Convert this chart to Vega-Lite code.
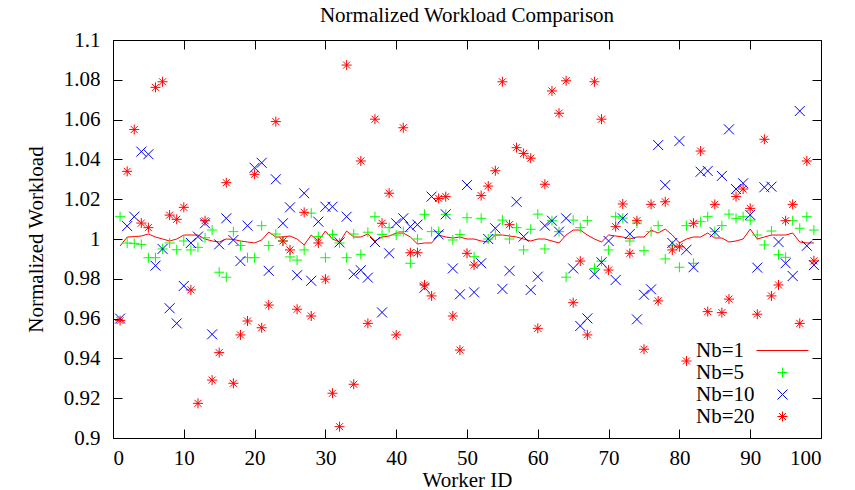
{
"$schema": "https://vega.github.io/schema/vega-lite/v6.json",
"width": 708, "height": 398,
"autosize": {"type": "none"},
"padding": {"left": 113, "top": 40, "right": 34, "bottom": 52},
"background": "white",
"title": {"text": "Normalized Workload Comparison", "font": "Liberation Serif", "fontSize": 21, "fontWeight": "normal", "color": "black", "offset": 3},
"config": {
  "font": "Liberation Serif",
  "view": {"stroke": "black", "strokeWidth": 1},
  "axis": {"labelFont": "Liberation Serif", "labelFontSize": 21, "titleFont": "Liberation Serif", "titleFontSize": 21, "titleFontWeight": "normal", "labelColor": "black", "titleColor": "black", "domain": false, "grid": false, "tickColor": "black", "tickSize": -9, "tickWidth": 1},
  "legend": {"labelFont": "Liberation Serif"}
},
"data": {"values": [
{"w":1,"s":"Nb=1","v":0.9965},{"w":2,"s":"Nb=1","v":1.001},{"w":3,"s":"Nb=1","v":1.0012},{"w":4,"s":"Nb=1","v":1.0015},{"w":5,"s":"Nb=1","v":1.0025},{"w":6,"s":"Nb=1","v":1.001},{"w":7,"s":"Nb=1","v":1.0},{"w":8,"s":"Nb=1","v":0.999},{"w":9,"s":"Nb=1","v":1.0},{"w":10,"s":"Nb=1","v":1.002},
{"w":11,"s":"Nb=1","v":1.002},{"w":12,"s":"Nb=1","v":1.002},{"w":13,"s":"Nb=1","v":1.0},{"w":14,"s":"Nb=1","v":0.999},{"w":15,"s":"Nb=1","v":0.9985},{"w":16,"s":"Nb=1","v":1.0},{"w":17,"s":"Nb=1","v":0.9998},{"w":18,"s":"Nb=1","v":0.999},{"w":19,"s":"Nb=1","v":0.9985},{"w":20,"s":"Nb=1","v":0.998},
{"w":21,"s":"Nb=1","v":0.9995},{"w":22,"s":"Nb=1","v":1.0035},{"w":23,"s":"Nb=1","v":1.001},{"w":24,"s":"Nb=1","v":1.001},{"w":25,"s":"Nb=1","v":1.0015},{"w":26,"s":"Nb=1","v":1.0},{"w":27,"s":"Nb=1","v":0.997},{"w":28,"s":"Nb=1","v":1.002},{"w":29,"s":"Nb=1","v":0.999},{"w":30,"s":"Nb=1","v":1.004},
{"w":31,"s":"Nb=1","v":1.0},{"w":32,"s":"Nb=1","v":0.9985},{"w":33,"s":"Nb=1","v":1.004},{"w":34,"s":"Nb=1","v":1.001},{"w":35,"s":"Nb=1","v":1.001},{"w":36,"s":"Nb=1","v":1.0025},{"w":37,"s":"Nb=1","v":0.999},{"w":38,"s":"Nb=1","v":1.001},{"w":39,"s":"Nb=1","v":1.0015},{"w":40,"s":"Nb=1","v":1.003},
{"w":41,"s":"Nb=1","v":1.003},{"w":42,"s":"Nb=1","v":1.001},{"w":43,"s":"Nb=1","v":0.9975},{"w":44,"s":"Nb=1","v":0.998},{"w":45,"s":"Nb=1","v":0.998},{"w":46,"s":"Nb=1","v":1.002},{"w":47,"s":"Nb=1","v":1.001},{"w":48,"s":"Nb=1","v":1.0005},{"w":49,"s":"Nb=1","v":1.001},{"w":50,"s":"Nb=1","v":1.0},
{"w":51,"s":"Nb=1","v":1.0},{"w":52,"s":"Nb=1","v":0.999},{"w":53,"s":"Nb=1","v":0.9985},{"w":54,"s":"Nb=1","v":1.002},{"w":55,"s":"Nb=1","v":1.002},{"w":56,"s":"Nb=1","v":1.0015},{"w":57,"s":"Nb=1","v":1.001},{"w":58,"s":"Nb=1","v":1.0},{"w":59,"s":"Nb=1","v":0.999},{"w":60,"s":"Nb=1","v":1.0},
{"w":61,"s":"Nb=1","v":1.0},{"w":62,"s":"Nb=1","v":0.999},{"w":63,"s":"Nb=1","v":0.998},{"w":64,"s":"Nb=1","v":1.002},{"w":65,"s":"Nb=1","v":1.0045},{"w":66,"s":"Nb=1","v":1.0045},{"w":67,"s":"Nb=1","v":1.002},{"w":68,"s":"Nb=1","v":1.0},{"w":69,"s":"Nb=1","v":0.9985},{"w":70,"s":"Nb=1","v":1.002},
{"w":71,"s":"Nb=1","v":1.0015},{"w":72,"s":"Nb=1","v":1.001},{"w":73,"s":"Nb=1","v":1.0},{"w":74,"s":"Nb=1","v":1.001},{"w":75,"s":"Nb=1","v":1.001},{"w":76,"s":"Nb=1","v":1.0045},{"w":77,"s":"Nb=1","v":1.003},{"w":78,"s":"Nb=1","v":1.005},{"w":79,"s":"Nb=1","v":1.002},{"w":80,"s":"Nb=1","v":0.998},
{"w":81,"s":"Nb=1","v":1.0},{"w":82,"s":"Nb=1","v":1.001},{"w":83,"s":"Nb=1","v":1.001},{"w":84,"s":"Nb=1","v":1.003},{"w":85,"s":"Nb=1","v":1.0005},{"w":86,"s":"Nb=1","v":1.0005},{"w":87,"s":"Nb=1","v":0.9985},{"w":88,"s":"Nb=1","v":0.999},{"w":89,"s":"Nb=1","v":1.0},{"w":90,"s":"Nb=1","v":1.005},
{"w":91,"s":"Nb=1","v":1.0},{"w":92,"s":"Nb=1","v":1.001},{"w":93,"s":"Nb=1","v":1.002},{"w":94,"s":"Nb=1","v":1.002},{"w":95,"s":"Nb=1","v":1.002},{"w":96,"s":"Nb=1","v":1.003},{"w":97,"s":"Nb=1","v":0.9985},{"w":98,"s":"Nb=1","v":0.998},{"w":99,"s":"Nb=1","v":0.998},
{"w":1,"s":"Nb=5","v":1.0112},{"w":2,"s":"Nb=5","v":0.998},{"w":3,"s":"Nb=5","v":0.9978},{"w":4,"s":"Nb=5","v":0.9973},{"w":5,"s":"Nb=5","v":0.9906},{"w":6,"s":"Nb=5","v":0.9906},{"w":7,"s":"Nb=5","v":0.995},{"w":8,"s":"Nb=5","v":0.998},{"w":9,"s":"Nb=5","v":0.9946},{"w":10,"s":"Nb=5","v":0.999},
{"w":11,"s":"Nb=5","v":0.9945},{"w":12,"s":"Nb=5","v":0.9958},{"w":13,"s":"Nb=5","v":1.0006},{"w":14,"s":"Nb=5","v":1.0045},{"w":15,"s":"Nb=5","v":0.9833},{"w":16,"s":"Nb=5","v":0.9808},{"w":17,"s":"Nb=5","v":1.0037},{"w":18,"s":"Nb=5","v":0.9967},{"w":19,"s":"Nb=5","v":0.9906},{"w":20,"s":"Nb=5","v":0.9906},
{"w":21,"s":"Nb=5","v":1.0067},{"w":22,"s":"Nb=5","v":0.9967},{"w":23,"s":"Nb=5","v":1.0025},{"w":24,"s":"Nb=5","v":0.999},{"w":25,"s":"Nb=5","v":0.991},{"w":26,"s":"Nb=5","v":0.9894},{"w":27,"s":"Nb=5","v":0.9945},{"w":28,"s":"Nb=5","v":1.013},{"w":29,"s":"Nb=5","v":1.0012},{"w":30,"s":"Nb=5","v":0.9906},
{"w":31,"s":"Nb=5","v":1.0023},{"w":32,"s":"Nb=5","v":0.998},{"w":33,"s":"Nb=5","v":0.9906},{"w":34,"s":"Nb=5","v":1.0025},{"w":35,"s":"Nb=5","v":0.9923},{"w":36,"s":"Nb=5","v":1.0034},{"w":37,"s":"Nb=5","v":1.0112},{"w":38,"s":"Nb=5","v":1.0023},{"w":39,"s":"Nb=5","v":1.0057},{"w":40,"s":"Nb=5","v":1.002},
{"w":41,"s":"Nb=5","v":1.0037},{"w":42,"s":"Nb=5","v":0.9878},{"w":43,"s":"Nb=5","v":1.0},{"w":44,"s":"Nb=5","v":1.0124},{"w":45,"s":"Nb=5","v":1.0037},{"w":46,"s":"Nb=5","v":1.0037},{"w":47,"s":"Nb=5","v":1.0124},{"w":48,"s":"Nb=5","v":0.9995},{"w":49,"s":"Nb=5","v":1.0023},{"w":50,"s":"Nb=5","v":1.0107},
{"w":51,"s":"Nb=5","v":0.9911},{"w":52,"s":"Nb=5","v":1.0104},{"w":53,"s":"Nb=5","v":1.0},{"w":54,"s":"Nb=5","v":1.002},{"w":55,"s":"Nb=5","v":1.0095},{"w":56,"s":"Nb=5","v":1.0},{"w":57,"s":"Nb=5","v":1.0057},{"w":58,"s":"Nb=5","v":0.9945},{"w":59,"s":"Nb=5","v":1.0049},{"w":60,"s":"Nb=5","v":1.0125},
{"w":61,"s":"Nb=5","v":0.995},{"w":62,"s":"Nb=5","v":1.0092},{"w":63,"s":"Nb=5","v":1.0037},{"w":64,"s":"Nb=5","v":0.9808},{"w":65,"s":"Nb=5","v":1.0095},{"w":66,"s":"Nb=5","v":1.0057},{"w":67,"s":"Nb=5","v":1.0092},{"w":68,"s":"Nb=5","v":0.9852},{"w":69,"s":"Nb=5","v":0.9889},{"w":70,"s":"Nb=5","v":0.9945},
{"w":71,"s":"Nb=5","v":1.0112},{"w":72,"s":"Nb=5","v":1.0105},{"w":73,"s":"Nb=5","v":0.999},{"w":74,"s":"Nb=5","v":1.008},{"w":75,"s":"Nb=5","v":0.9941},{"w":76,"s":"Nb=5","v":1.0037},{"w":77,"s":"Nb=5","v":1.0067},{"w":78,"s":"Nb=5","v":0.99},{"w":79,"s":"Nb=5","v":0.9966},{"w":80,"s":"Nb=5","v":0.9858},
{"w":81,"s":"Nb=5","v":1.0067},{"w":82,"s":"Nb=5","v":0.9878},{"w":83,"s":"Nb=5","v":1.0087},{"w":84,"s":"Nb=5","v":1.0112},{"w":85,"s":"Nb=5","v":1.0037},{"w":86,"s":"Nb=5","v":1.0067},{"w":87,"s":"Nb=5","v":1.0125},{"w":88,"s":"Nb=5","v":1.0104},{"w":89,"s":"Nb=5","v":1.0112},{"w":90,"s":"Nb=5","v":1.0095},
{"w":91,"s":"Nb=5","v":1.002},{"w":92,"s":"Nb=5","v":0.997},{"w":93,"s":"Nb=5","v":1.004},{"w":94,"s":"Nb=5","v":0.9921},{"w":95,"s":"Nb=5","v":0.9908},{"w":96,"s":"Nb=5","v":1.0092},{"w":97,"s":"Nb=5","v":1.0054},{"w":98,"s":"Nb=5","v":1.0112},{"w":99,"s":"Nb=5","v":1.0045},
{"w":1,"s":"Nb=10","v":0.96},{"w":2,"s":"Nb=10","v":1.0065},{"w":3,"s":"Nb=10","v":1.0112},{"w":4,"s":"Nb=10","v":1.0439},{"w":5,"s":"Nb=10","v":1.0426},{"w":6,"s":"Nb=10","v":0.9866},{"w":7,"s":"Nb=10","v":0.995},{"w":8,"s":"Nb=10","v":0.9652},{"w":9,"s":"Nb=10","v":0.9576},{"w":10,"s":"Nb=10","v":0.9764},
{"w":11,"s":"Nb=10","v":0.998},{"w":12,"s":"Nb=10","v":1.0012},{"w":13,"s":"Nb=10","v":1.0079},{"w":14,"s":"Nb=10","v":0.9521},{"w":15,"s":"Nb=10","v":0.9973},{"w":16,"s":"Nb=10","v":1.0104},{"w":17,"s":"Nb=10","v":0.9995},{"w":18,"s":"Nb=10","v":0.9889},{"w":19,"s":"Nb=10","v":1.0067},{"w":20,"s":"Nb=10","v":1.0358},
{"w":21,"s":"Nb=10","v":1.0383},{"w":22,"s":"Nb=10","v":0.984},{"w":23,"s":"Nb=10","v":1.03},{"w":24,"s":"Nb=10","v":1.0079},{"w":25,"s":"Nb=10","v":1.0159},{"w":26,"s":"Nb=10","v":0.9818},{"w":27,"s":"Nb=10","v":1.023},{"w":28,"s":"Nb=10","v":0.979},{"w":29,"s":"Nb=10","v":1.0087},{"w":30,"s":"Nb=10","v":1.0162},
{"w":31,"s":"Nb=10","v":1.0162},{"w":32,"s":"Nb=10","v":0.9983},{"w":33,"s":"Nb=10","v":1.0112},{"w":34,"s":"Nb=10","v":0.9823},{"w":35,"s":"Nb=10","v":0.9843},{"w":36,"s":"Nb=10","v":0.9806},{"w":37,"s":"Nb=10","v":0.9985},{"w":38,"s":"Nb=10","v":0.9631},{"w":39,"s":"Nb=10","v":0.9928},{"w":40,"s":"Nb=10","v":1.0079},
{"w":41,"s":"Nb=10","v":1.0104},{"w":42,"s":"Nb=10","v":1.0062},{"w":43,"s":"Nb=10","v":1.0072},{"w":44,"s":"Nb=10","v":0.9755},{"w":45,"s":"Nb=10","v":1.0213},{"w":46,"s":"Nb=10","v":1.0023},{"w":47,"s":"Nb=10","v":1.0124},{"w":48,"s":"Nb=10","v":0.9852},{"w":49,"s":"Nb=10","v":0.9722},{"w":50,"s":"Nb=10","v":1.0271},
{"w":51,"s":"Nb=10","v":0.9732},{"w":52,"s":"Nb=10","v":0.9878},{"w":53,"s":"Nb=10","v":1.0},{"w":54,"s":"Nb=10","v":1.0054},{"w":55,"s":"Nb=10","v":0.9749},{"w":56,"s":"Nb=10","v":0.984},{"w":57,"s":"Nb=10","v":1.0187},{"w":58,"s":"Nb=10","v":1.0012},{"w":59,"s":"Nb=10","v":0.9744},{"w":60,"s":"Nb=10","v":0.9811},
{"w":61,"s":"Nb=10","v":1.0067},{"w":62,"s":"Nb=10","v":1.0092},{"w":63,"s":"Nb=10","v":1.0037},{"w":64,"s":"Nb=10","v":1.0104},{"w":65,"s":"Nb=10","v":0.9852},{"w":66,"s":"Nb=10","v":0.9563},{"w":67,"s":"Nb=10","v":0.9601},{"w":68,"s":"Nb=10","v":0.9823},{"w":69,"s":"Nb=10","v":0.9883},{"w":70,"s":"Nb=10","v":0.999},
{"w":71,"s":"Nb=10","v":0.9794},{"w":72,"s":"Nb=10","v":1.0104},{"w":73,"s":"Nb=10","v":1.0025},{"w":74,"s":"Nb=10","v":0.9596},{"w":75,"s":"Nb=10","v":0.972},{"w":76,"s":"Nb=10","v":0.9747},{"w":77,"s":"Nb=10","v":1.0472},{"w":78,"s":"Nb=10","v":1.0271},{"w":79,"s":"Nb=10","v":0.998},{"w":80,"s":"Nb=10","v":1.0492},
{"w":81,"s":"Nb=10","v":0.9946},{"w":82,"s":"Nb=10","v":0.9858},{"w":83,"s":"Nb=10","v":1.0338},{"w":84,"s":"Nb=10","v":1.0342},{"w":85,"s":"Nb=10","v":1.0034},{"w":86,"s":"Nb=10","v":1.0317},{"w":87,"s":"Nb=10","v":1.0551},{"w":88,"s":"Nb=10","v":1.0251},{"w":89,"s":"Nb=10","v":1.028},{"w":90,"s":"Nb=10","v":1.0121},
{"w":91,"s":"Nb=10","v":0.9856},{"w":92,"s":"Nb=10","v":1.026},{"w":93,"s":"Nb=10","v":1.0263},{"w":94,"s":"Nb=10","v":0.9985},{"w":95,"s":"Nb=10","v":0.9878},{"w":96,"s":"Nb=10","v":0.9814},{"w":97,"s":"Nb=10","v":1.0643},{"w":98,"s":"Nb=10","v":0.9966},{"w":99,"s":"Nb=10","v":0.9869},
{"w":1,"s":"Nb=20","v":0.959},{"w":2,"s":"Nb=20","v":1.034},{"w":3,"s":"Nb=20","v":1.055},{"w":4,"s":"Nb=20","v":1.008},{"w":5,"s":"Nb=20","v":1.0057},{"w":6,"s":"Nb=20","v":1.0762},{"w":7,"s":"Nb=20","v":1.079},{"w":8,"s":"Nb=20","v":1.012},{"w":9,"s":"Nb=20","v":1.0099},{"w":10,"s":"Nb=20","v":1.0159},
{"w":11,"s":"Nb=20","v":0.9744},{"w":12,"s":"Nb=20","v":0.9174},{"w":13,"s":"Nb=20","v":1.0092},{"w":14,"s":"Nb=20","v":0.9291},{"w":15,"s":"Nb=20","v":0.9429},{"w":16,"s":"Nb=20","v":1.0283},{"w":17,"s":"Nb=20","v":0.9275},{"w":18,"s":"Nb=20","v":0.9518},{"w":19,"s":"Nb=20","v":0.9588},{"w":20,"s":"Nb=20","v":1.0325},
{"w":21,"s":"Nb=20","v":0.9554},{"w":22,"s":"Nb=20","v":0.9668},{"w":23,"s":"Nb=20","v":1.059},{"w":24,"s":"Nb=20","v":0.999},{"w":25,"s":"Nb=20","v":0.9945},{"w":26,"s":"Nb=20","v":0.9647},{"w":27,"s":"Nb=20","v":1.0134},{"w":28,"s":"Nb=20","v":0.9613},{"w":29,"s":"Nb=20","v":0.998},{"w":30,"s":"Nb=20","v":0.9798},
{"w":31,"s":"Nb=20","v":0.9225},{"w":32,"s":"Nb=20","v":0.9057},{"w":33,"s":"Nb=20","v":1.0874},{"w":34,"s":"Nb=20","v":0.927},{"w":35,"s":"Nb=20","v":1.0392},{"w":36,"s":"Nb=20","v":0.9576},{"w":37,"s":"Nb=20","v":1.0602},{"w":38,"s":"Nb=20","v":1.0079},{"w":39,"s":"Nb=20","v":1.023},{"w":40,"s":"Nb=20","v":0.9518},
{"w":41,"s":"Nb=20","v":1.0559},{"w":42,"s":"Nb=20","v":0.9931},{"w":43,"s":"Nb=20","v":0.9931},{"w":44,"s":"Nb=20","v":0.9769},{"w":45,"s":"Nb=20","v":0.9714},{"w":46,"s":"Nb=20","v":1.0204},{"w":47,"s":"Nb=20","v":1.0213},{"w":48,"s":"Nb=20","v":0.9613},{"w":49,"s":"Nb=20","v":0.9442},{"w":50,"s":"Nb=20","v":0.9928},
{"w":51,"s":"Nb=20","v":0.9869},{"w":52,"s":"Nb=20","v":1.0218},{"w":53,"s":"Nb=20","v":1.0266},{"w":54,"s":"Nb=20","v":1.0343},{"w":55,"s":"Nb=20","v":1.079},{"w":56,"s":"Nb=20","v":1.0072},{"w":57,"s":"Nb=20","v":1.0459},{"w":58,"s":"Nb=20","v":1.043},{"w":59,"s":"Nb=20","v":1.0406},{"w":60,"s":"Nb=20","v":0.9551},
{"w":61,"s":"Nb=20","v":1.0275},{"w":62,"s":"Nb=20","v":1.0744},{"w":63,"s":"Nb=20","v":1.0632},{"w":64,"s":"Nb=20","v":1.0795},{"w":65,"s":"Nb=20","v":0.968},{"w":66,"s":"Nb=20","v":0.9889},{"w":67,"s":"Nb=20","v":0.9518},{"w":68,"s":"Nb=20","v":1.079},{"w":69,"s":"Nb=20","v":1.0602},{"w":70,"s":"Nb=20","v":0.9844},
{"w":71,"s":"Nb=20","v":1.0062},{"w":72,"s":"Nb=20","v":1.0176},{"w":73,"s":"Nb=20","v":0.9928},{"w":74,"s":"Nb=20","v":1.0092},{"w":75,"s":"Nb=20","v":0.9446},{"w":76,"s":"Nb=20","v":1.0174},{"w":77,"s":"Nb=20","v":0.9689},{"w":78,"s":"Nb=20","v":1.0187},{"w":79,"s":"Nb=20","v":0.9945},{"w":80,"s":"Nb=20","v":0.9961},
{"w":81,"s":"Nb=20","v":0.9387},{"w":82,"s":"Nb=20","v":1.0079},{"w":83,"s":"Nb=20","v":1.0442},{"w":84,"s":"Nb=20","v":0.9635},{"w":85,"s":"Nb=20","v":1.0174},{"w":86,"s":"Nb=20","v":0.963},{"w":87,"s":"Nb=20","v":0.9698},{"w":88,"s":"Nb=20","v":1.0213},{"w":89,"s":"Nb=20","v":1.0251},{"w":90,"s":"Nb=20","v":1.0154},
{"w":91,"s":"Nb=20","v":0.9622},{"w":92,"s":"Nb=20","v":1.0501},{"w":93,"s":"Nb=20","v":0.9714},{"w":94,"s":"Nb=20","v":0.9769},{"w":95,"s":"Nb=20","v":1.0092},{"w":96,"s":"Nb=20","v":1.0174},{"w":97,"s":"Nb=20","v":0.9576},{"w":98,"s":"Nb=20","v":1.0392},{"w":99,"s":"Nb=20","v":0.989}
]},
"layer": [
  {
    "transform": [{"filter": "datum.s === 'Nb=1'"}],
    "mark": {"type": "line", "strokeWidth": 1},
    "encoding": {
      "x": {"field": "w", "type": "quantitative", "scale": {"domain": [0, 100], "nice": false}, "axis": {"values": [0,10,20,30,40,50,60,70,80,90,100], "title": "Worker ID", "labelPadding": 18, "titlePadding": 1, "labelFont": "Liberation Serif", "titleFont": "Liberation Serif"}},
      "y": {"field": "v", "type": "quantitative", "scale": {"domain": [0.9, 1.1], "zero": false, "nice": false}, "axis": {"values": [0.9,0.92,0.94,0.96,0.98,1.0,1.02,1.04,1.06,1.08,1.1], "format": ".2~f", "title": "Normalized Workload", "labelPadding": 22, "titlePadding": 17, "labelFont": "Liberation Serif", "titleFont": "Liberation Serif"}},
      "color": {"field": "s", "type": "nominal", "scale": {"domain": ["Nb=1","Nb=5","Nb=10","Nb=20"], "range": ["#ff0000","#00ff00","#0000ff","#ff0000"]}}
    }
  },
  {
    "transform": [{"filter": "datum.s !== 'Nb=1'"}],
    "mark": {"type": "point", "filled": false, "strokeWidth": 1, "size": 100, "opacity": 1},
    "encoding": {
      "x": {"field": "w", "type": "quantitative", "axis": {"orient": "top", "values": [0,10,20,30,40,50,60,70,80,90,100], "labels": false, "title": null}},
      "y": {"field": "v", "type": "quantitative", "axis": {"orient": "right", "values": [0.9,0.92,0.94,0.96,0.98,1.0,1.02,1.04,1.06,1.08,1.1], "labels": false, "title": null}},
      "color": {"field": "s", "type": "nominal", "scale": {"domain": ["Nb=1","Nb=5","Nb=10","Nb=20"], "range": ["#ff0000","#00ff00","#0000ff","#ff0000"]},
        "legend": {"title": null, "orient": "none", "legendX": 659, "legendY": 300, "padding": 0, "labelFont": "Liberation Serif", "labelFontSize": 21, "labelColor": "black", "labelAlign": "left", "labelOffset": -97, "symbolSize": 100, "symbolStrokeWidth": 1, "symbolFillColor": "transparent", "rowPadding": 0}},
      "shape": {"field": "s", "type": "nominal", "scale": {"domain": ["Nb=1","Nb=5","Nb=10","Nb=20"], "range": ["M-5.2,0H5.2", "M-1,0H1M0,-1V1", "M-1,-1L1,1M-1,1L1,-1", "M-1,0H1M0,-1V1M-0.7,-0.7L0.7,0.7M-0.7,0.7L0.7,-0.7"]},
        "legend": {"title": null, "orient": "none", "legendX": 659, "legendY": 300, "padding": 0, "labelFont": "Liberation Serif", "labelFontSize": 21, "labelColor": "black", "labelAlign": "left", "labelOffset": -97, "symbolSize": 100, "symbolStrokeWidth": 1, "symbolFillColor": "transparent", "rowPadding": 0}}
    }
  }
],
"resolve": {"axis": {"x": "independent", "y": "independent"}}
}
